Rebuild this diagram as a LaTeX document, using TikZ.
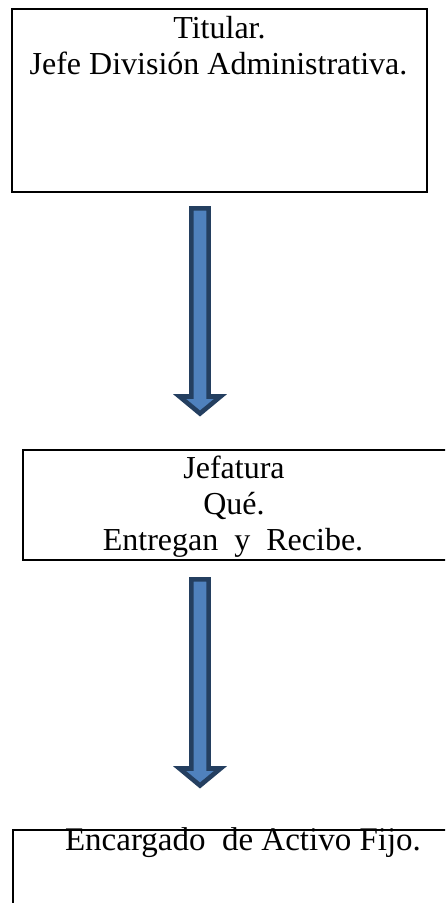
\documentclass[tikz,border=0pt]{standalone}
\usepackage{fontspec}
\setmainfont{Liberation Serif}
\usetikzlibrary{calc}
\definecolor{arrowfill}{HTML}{4F81BD}
\definecolor{arrowline}{HTML}{243F60}
\tikzset{
  box/.style={draw=black, line width=2pt, fill=none},
  txt/.style={font=\fontsize{32}{37}\selectfont, anchor=base, inner sep=0pt, text=black},
  bigarrow/.style={draw=arrowline, fill=arrowfill, line width=4.6pt, line join=miter, miter limit=10}
}
\begin{document}
\begin{tikzpicture}[x=1pt,y=-1pt]
\clip (0,0) rectangle (445,903);
\fill[white] (0,0) rectangle (445,903);
% boxes
\draw[box] (12,9) rectangle (427,192);
\draw[box] (22.7,450) rectangle (460,560);
\draw[box] (13.3,829.5) rectangle (470,920);
% texts
\node[txt] (t1a) at (219.5,38.3) {Titular.};
\node[txt] (t1b) at (218.5,74.5) {Jefe División Administrativa.};
\node[txt] (t2a) at (234,478) {Jefatura};
\node[txt] (t2b) at (234,514.5) {Qué.};
\node[txt] (t2c) at (233,550.7) {Entregan~~y~~Recibe.};
\node[txt, font=\fontsize{33}{38}\selectfont] (t3a) at (243,850.7) {Encargado~~de Activo Fijo.};
% arrows
\coordinate (s1) at (200,208.3);
\coordinate (e1) at (200,413.5);
\coordinate (s2) at (200,579.3);
\coordinate (e2) at (200,785.5);
\foreach \s/\e in {s1/e1, s2/e2}{
  \draw[bigarrow] ($(\s)+(-8.6,0)$) -- ($(\s)+(8.6,0)$) -- ($(\e)+(8.6,-17)$)
    -- ($(\e)+(20.5,-17)$) -- (\e) -- ($(\e)+(-20.5,-17)$) -- ($(\e)+(-8.6,-17)$) -- cycle;
}
\end{tikzpicture}
\end{document}
